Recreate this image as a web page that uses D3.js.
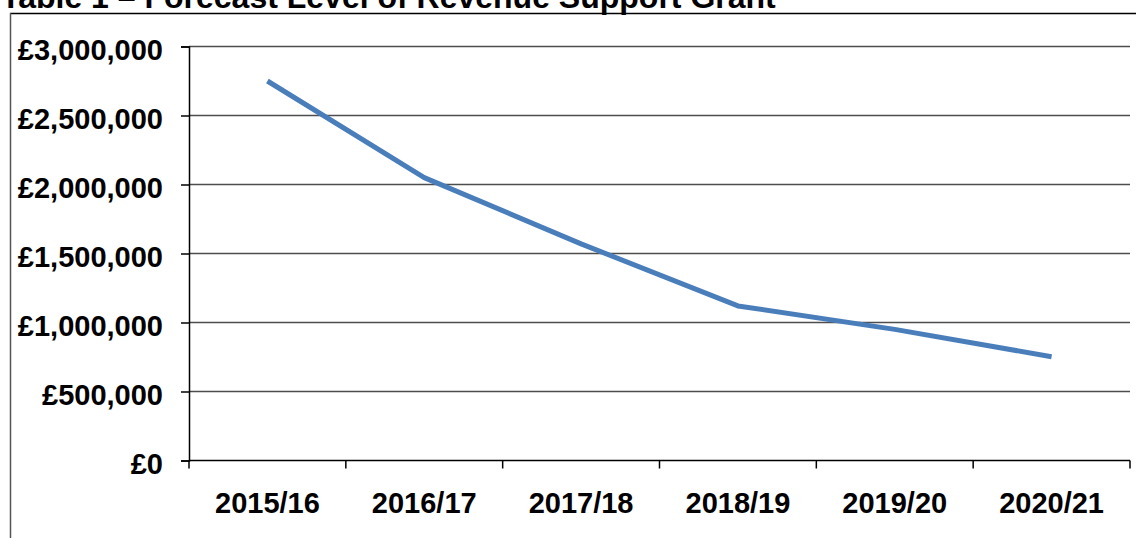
<!DOCTYPE html>
<html><head><meta charset="utf-8">
<script src="https://cdn.jsdelivr.net/npm/d3@7"></script>
<style>body{margin:0;background:#fff;} svg{display:block;} text{font-family:Arial,"Liberation Sans",sans-serif;font-weight:bold;fill:#000;}</style>
</head><body>
<svg id="c" width="1136" height="538"></svg>
<script>
const title = "Table 1 \u2013 Forecast Level of Revenue Support Grant";
const categories = ["2015/16","2016/17","2017/18","2018/19","2019/20","2020/21"];
const values = [2750000, 2050000, 1570000, 1120000, 950000, 752000];
const yTicks = [0, 500000, 1000000, 1500000, 2000000, 2500000, 3000000];

const svg = d3.select("#c");
const W = 1136, H = 538;
const m = {left:189, right:1130, top:46.5, bottom:460.5};

svg.append("text").attr("x", 1).attr("y", 8).attr("font-size", 32).text(title);

// frame
svg.append("line").attr("x1",10).attr("x2",W).attr("y1",13.5).attr("y2",13.5).attr("stroke","#000").attr("stroke-width",1.5);
svg.append("line").attr("x1",10.5).attr("x2",10.5).attr("y1",13).attr("y2",H).attr("stroke","#555").attr("stroke-width",1.5);

const x = d3.scaleBand().domain(categories).range([m.left, m.right]);
const y = d3.scaleLinear().domain([0, 3000000]).range([m.bottom, m.top]);

// gridlines
svg.append("g").selectAll("line").data(yTicks.filter(d=>d>0)).join("line")
  .attr("x1", m.left).attr("x2", m.right)
  .attr("y1", d=>y(d)).attr("y2", d=>y(d))
  .attr("stroke","#4d4d4d").attr("stroke-width",1.5);

const fmt = d => "\u00a3" + d3.format(",")(d);
const yAxis = svg.append("g").attr("transform",`translate(${m.left},0)`)
  .call(d3.axisLeft(y).tickValues(yTicks).tickFormat(fmt).tickSize(8).tickPadding(18));
yAxis.select(".domain").attr("stroke","#000").attr("stroke-width",1.5);
yAxis.selectAll(".tick line").attr("stroke","#000").attr("stroke-width",1.5);
yAxis.selectAll("text").attr("font-size",29).attr("dy","0.46em").attr("font-family","Arial, 'Liberation Sans', sans-serif").attr("font-weight","bold").attr("fill","#000");

// x axis
const xb = d3.scaleLinear().domain([0, categories.length]).range([m.left, m.right]);
const xAxisG = svg.append("g").attr("transform",`translate(0,${m.bottom})`);
xAxisG.append("line").attr("x1",m.left).attr("x2",m.right).attr("stroke","#000").attr("stroke-width",1.5);
xAxisG.selectAll("line.tk").data(d3.range(categories.length+1)).join("line").attr("class","tk")
  .attr("x1",d=>xb(d)).attr("x2",d=>xb(d)).attr("y1",0).attr("y2",8)
  .attr("stroke","#000").attr("stroke-width",1.5);
xAxisG.selectAll("text").data(categories).join("text")
  .attr("x", d=>x(d)+x.bandwidth()/2).attr("y", 52.5)
  .attr("text-anchor","middle").attr("font-size",29).text(d=>d);

// line
const line = d3.line().x((d,i)=>x(categories[i])+x.bandwidth()/2).y(d=>y(d));
svg.append("path").datum(values).attr("d", line)
  .attr("fill","none").attr("stroke","#4a7ebb").attr("stroke-width",5)
  .attr("stroke-linejoin","round");
</script>
</body></html>
